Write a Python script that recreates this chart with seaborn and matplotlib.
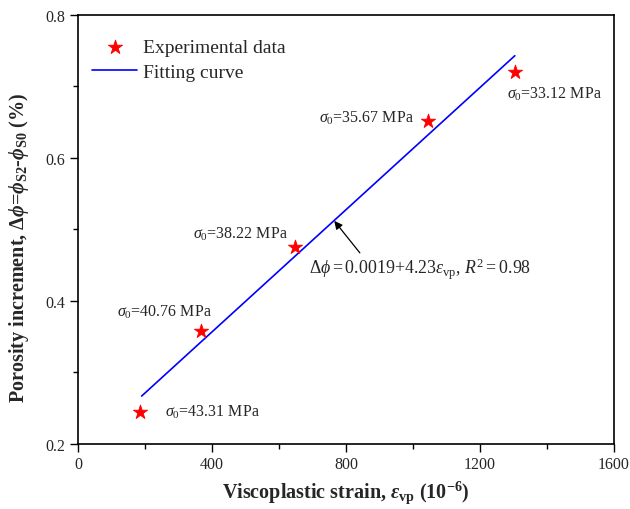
import matplotlib
matplotlib.use("Agg")
import matplotlib.pyplot as plt
import seaborn as sns
import pandas as pd
from matplotlib.ticker import MultipleLocator, FormatStrFormatter

# data
strain = [185, 368, 648, 1045, 1304]
porosity = [0.245, 0.358, 0.475, 0.652, 0.720]
stress_labels = ["43.31", "40.76", "38.22", "35.67", "33.12"]
label_x = [259, 116, 342, 720, 1280]
label_y = [0.245, 0.386, 0.494, 0.657, 0.690]
fit_x = [190, 1304]
fit_y = [0.267, 0.743]

sns.set_theme(style="white")
plt.rcParams["font.family"] = ["Liberation Serif", "DejaVu Serif"]
plt.rcParams["mathtext.fontset"] = "custom"
plt.rcParams["mathtext.rm"] = "Liberation Serif"
plt.rcParams["mathtext.it"] = "Liberation Serif:italic"
plt.rcParams["mathtext.bf"] = "Liberation Serif:bold"
plt.rcParams["mathtext.bfit"] = "Liberation Serif:italic:bold"
plt.rcParams["mathtext.fallback"] = "stix"

fig = plt.figure(figsize=(6.3, 5.1), dpi=100)
ax = fig.add_axes([0.1238, 0.1275, 0.8508, 0.8412])

df = pd.DataFrame({"x": strain, "y": porosity})
fdf = pd.DataFrame({"x": fit_x, "y": fit_y})

sns.lineplot(data=fdf, x="x", y="y", ax=ax, color="#0000ff", lw=1.2,
             label="Fitting curve", zorder=2)
sns.scatterplot(data=df, x="x", y="y", ax=ax, marker="*", s=115,
                color="red", edgecolor="red", linewidth=0.6,
                label="Experimental data", zorder=3)

for lx, ly, s in zip(label_x, label_y, stress_labels):
    ax.text(lx, ly, r"$\sigma_0$=" + s + " MPa", fontsize=11.5,
            ha="left", va="center")

ax.annotate(r"$\Delta\phi = 0.0019$+$4.23\varepsilon_{\rm vp}$, $R^2 = 0.98$",
            xy=(765, 0.512), xytext=(690, 0.445), fontsize=12.9,
            ha="left", va="center",
            arrowprops=dict(arrowstyle="-|>", color="black", lw=0.9,
                            shrinkA=0, shrinkB=0, mutation_scale=12,
                            relpos=(0.24, 1.0)))

ax.set_xlim(0, 1600)
ax.set_ylim(0.2, 0.8)
ax.xaxis.set_major_locator(MultipleLocator(400))
ax.xaxis.set_minor_locator(MultipleLocator(200))
ax.yaxis.set_major_locator(MultipleLocator(0.2))
ax.yaxis.set_minor_locator(MultipleLocator(0.1))
ax.yaxis.set_major_formatter(FormatStrFormatter("%.1f"))
ax.xaxis.set_major_formatter(FormatStrFormatter("%d"))
ax.tick_params(axis="both", which="major", direction="out", length=6,
               width=1.0, labelsize=11.5, bottom=True, left=True, color="black",
               pad=3)
ax.tick_params(axis="both", which="minor", direction="out", length=3.5,
               width=1.0, bottom=True, left=True, color="black")
for sp in ax.spines.values():
    sp.set_visible(True)
    sp.set_color("black")
    sp.set_linewidth(1.2)

ax.set_xlabel(r"Viscoplastic strain, $\mathbfit{\varepsilon}_{\mathbf{vp}}$ (10$^{\mathbf{-6}}$)",
              fontsize=14.5, fontweight="bold", labelpad=4)
ax.set_ylabel(r"Porosity increment, $\mathbf{\Delta}\mathbfit{\phi}$=$\mathbfit{\phi}_{\mathbf{S2}}$-$\mathbfit{\phi}_{\mathbf{S0}}$ (%)",
              fontsize=14.5, fontweight="bold")
ax.yaxis.set_label_coords(-0.088, 0.459)

h, l = ax.get_legend_handles_labels()
order = [l.index("Experimental data"), l.index("Fitting curve")]
ax.legend([h[i] for i in order], [l[i] for i in order], loc="upper left",
          bbox_to_anchor=(0.027, 0.945), frameon=False, fontsize=14,
          handlelength=2.3, handletextpad=0.3, labelspacing=0.35,
          borderpad=0, borderaxespad=0)

fig.savefig("out.png", dpi=100)
